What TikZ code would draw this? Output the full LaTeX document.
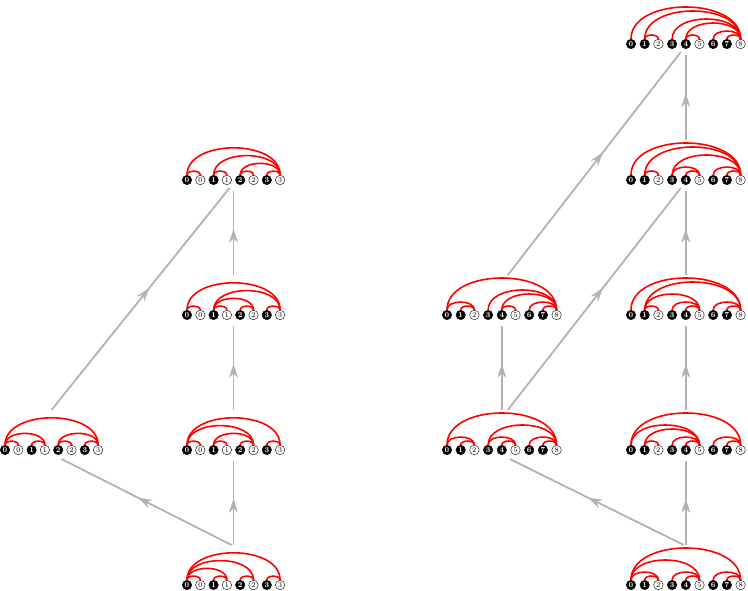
\documentclass[tikz,border=0pt]{standalone}
\usetikzlibrary{calc,positioning,decorations.markings,arrows.meta}

\tikzset{
  bk/.style={circle,fill=black,draw=black,inner sep=0pt,minimum size=9.5pt,
    text=white,font=\fontsize{7.5}{7.5}\selectfont\bfseries},
  wt/.style={circle,fill=white,draw=black,line width=0.4pt,inner sep=0pt,
    minimum size=9.5pt,font=\fontsize{7.5}{7.5}\selectfont},
  arc/.style={red,line width=1.6pt},
  flow/.style={color=black!30,line width=1.8pt,postaction={decorate},
    decoration={markings,mark=at position 0.55 with {\arrow{Stealth[length=14pt,width=9pt]}}}}
}

% a row 0 0 1 1 2 2 3 3 (black/white pairs)
\newcommand{\leftrow}[3]{%
  \foreach \i in {0,...,3}{%
    \node[bk] (#1b\i) at ({#2+26.6*\i},#3) {\i};
    \node[wt] (#1w\i) at ({#2+26.6*\i+13.3},#3) {\i};
  }%
  \coordinate (#1-t) at ({#2+46.5},{#3+40});
  \coordinate (#1-b) at ({#2+46.5},{#3-11});
}
% a row 0 ... 8, every third one white
\newcommand{\rightrow}[3]{%
  \foreach \i/\s in {0/bk,1/bk,2/wt,3/bk,4/bk,5/wt,6/bk,7/bk,8/wt}{%
    \node[\s] (#1\i) at ({#2+13.7*\i},#3) {\i};
  }%
  \coordinate (#1-t) at ({#2+54.8},{#3+40});
  \coordinate (#1-b) at ({#2+54.8},{#3-11});
}
\newcommand{\arcs}[2]{%
  \foreach \a/\b in {#2}
    \draw[arc] (#1\a.north) to[out=90,in=90] (#1\b.north);
}

\begin{document}
\begin{tikzpicture}[x=1pt,y=1pt]
  \useasboundingbox (0,0) rectangle (748,591);

  % left lattice
  \leftrow{la}{187}{411}
  \leftrow{lb}{187}{276}
  \leftrow{lc}{187}{141}
  \leftrow{ld}{5}{141}
  \leftrow{le}{187}{6}
  \arcs{la}{b0/w0,b0/w3,b1/w1,b1/w3,b2/w2,b2/w3,b3/w3}
  \arcs{lb}{b0/w0,b0/w3,b1/w1,b1/w2,b1/w3,b2/w2,b3/w3}
  \arcs{lc}{b0/w0,b0/w2,b0/w3,b1/w1,b1/w2,b2/w2,b3/w3}
  \arcs{ld}{b0/w0,b0/w1,b0/w3,b1/w1,b2/w2,b2/w3,b3/w3}
  \arcs{le}{b0/w0,b0/w1,b0/w2,b0/w3,b1/w1,b2/w2,b3/w3}
  \draw[flow] (le-t) -- (lc-b);
  \draw[flow] ([xshift=-2pt]le-t) -- ([xshift=10pt,yshift=2pt]ld-b);
  \draw[flow] (lc-t) -- (lb-b);
  \draw[flow] (lb-t) -- (la-b);
  \draw[flow] (ld-t) -- ([xshift=-4pt,yshift=3pt]la-b);

  % right lattice
  \rightrow{ra}{631}{547}
  \rightrow{rb}{631}{411}
  \rightrow{rc}{631}{276}
  \rightrow{rd}{447}{276}
  \rightrow{re}{447}{141}
  \rightrow{rf}{631}{141}
  \rightrow{rg}{631}{6}
  \arcs{ra}{0/8,1/8,1/2,3/8,4/8,4/5,6/8,7/8}
  \arcs{rb}{0/8,1/8,1/2,3/8,3/5,4/5,6/8,7/8}
  \arcs{rc}{0/8,1/8,1/5,1/2,3/5,4/5,6/8,7/8}
  \arcs{rd}{0/8,0/2,1/2,3/8,4/8,4/5,6/8,7/8}
  \arcs{re}{0/8,0/2,1/2,3/8,3/5,4/5,6/8,7/8}
  \arcs{rf}{0/8,0/5,1/5,1/2,3/5,4/5,6/8,7/8}
  \arcs{rg}{0/8,0/5,0/2,1/2,3/5,4/5,6/8,7/8}
  \draw[flow] (rg-t) -- (rf-b);
  \draw[flow] ([xshift=-2pt]rg-t) -- ([xshift=8pt,yshift=2pt]re-b);
  \draw[flow] (rf-t) -- (rc-b);
  \draw[flow] (re-t) -- (rd-b);
  \draw[flow] ([xshift=6pt]re-t) -- ([xshift=-5pt,yshift=3pt]rb-b);
  \draw[flow] (rc-t) -- (rb-b);
  \draw[flow] (rb-t) -- (ra-b);
  \draw[flow] ([xshift=6pt]rd-t) -- ([xshift=-5pt,yshift=3pt]ra-b);
\end{tikzpicture}
\end{document}
